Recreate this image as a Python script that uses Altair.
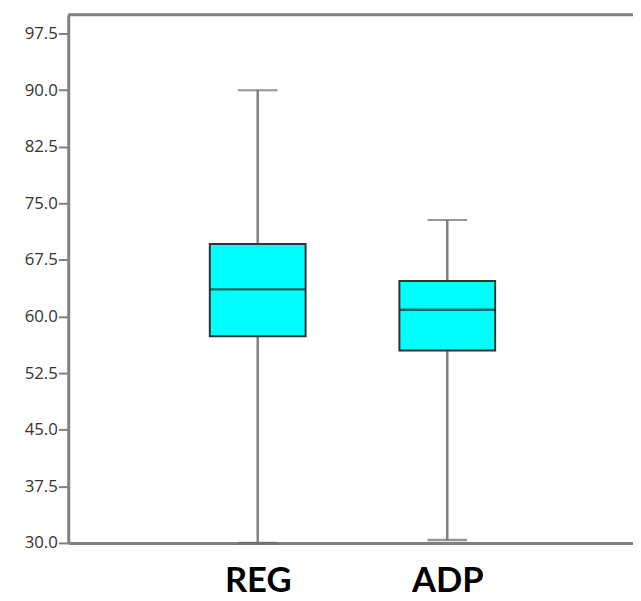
import altair as alt
import pandas as pd

categories = ["REG", "ADP"]
whisker_low = [30.0, 30.4]
q1 = [57.4, 55.5]
median = [63.6, 60.9]
q3 = [69.6, 64.7]
whisker_high = [90.0, 72.8]
y_ticks = [30.0, 37.5, 45.0, 52.5, 60.0, 67.5, 75.0, 82.5, 90.0, 97.5]

df = pd.DataFrame({
    "group": categories,
    "low": whisker_low,
    "q1": q1,
    "median": median,
    "q3": q3,
    "high": whisker_high,
})

W, H = 572, 535
GRAY = "#808080"

x_enc = alt.X(
    "group:N",
    sort=categories,
    scale=alt.Scale(type="point", padding=0.9896, align=0.505),
    axis=alt.Axis(
        title=None, labelAngle=0, labelFont="Lato", labelFontWeight="bold",
        labelFontSize=35, labelColor="#000000", ticks=False, labelPadding=21,
        domainColor=GRAY, domainWidth=3,
    ),
)
y_scale = alt.Scale(domain=[30, 100], nice=False, zero=False)
y_axis = alt.Axis(
    title=None, values=y_ticks, format=".1f", grid=False,
    labelFont="Open Sans", labelFontSize=17, labelColor="#333333",
    tickColor=GRAY, tickWidth=2, tickSize=10, labelPadding=1,
    domainColor=GRAY, domainWidth=3,
)

base = alt.Chart(df)

whisker = base.mark_rule(color=GRAY, strokeWidth=2.5).encode(
    x=x_enc, y=alt.Y("low:Q", scale=y_scale, axis=y_axis), y2="high:Q"
)
cap_hi = base.mark_tick(color="#6a6a6a", size=40, thickness=2).encode(
    x=x_enc, y=alt.Y("high:Q", scale=y_scale)
)
cap_lo = base.mark_tick(color="#6a6a6a", size=40, thickness=2.5).encode(
    x=x_enc, y=alt.Y("low:Q", scale=y_scale)
)
box = base.mark_bar(size=97, fill="#00FFFF", stroke="#333333", strokeWidth=2).encode(
    x=x_enc, y=alt.Y("q1:Q", scale=y_scale), y2="q3:Q"
)
med = base.mark_tick(color="#222222", size=97, thickness=2.5).encode(
    x=x_enc, y=alt.Y("median:Q", scale=y_scale)
)
top = alt.Chart(pd.DataFrame({"a": [0]})).mark_rule(color=GRAY, strokeWidth=3).encode(
    x=alt.value(0), x2=alt.value(W), y=alt.value(0)
)

chart = alt.layer(whisker, cap_hi, cap_lo, box, med, top).properties(
    width=W, height=H,
    autosize=alt.AutoSizeParams(type="none"),
    padding={"left": 61, "top": 3, "right": 0, "bottom": 53},
).configure_view(stroke=None)

chart.save("out.html", embed_options={"renderer": "svg", "actions": False})
